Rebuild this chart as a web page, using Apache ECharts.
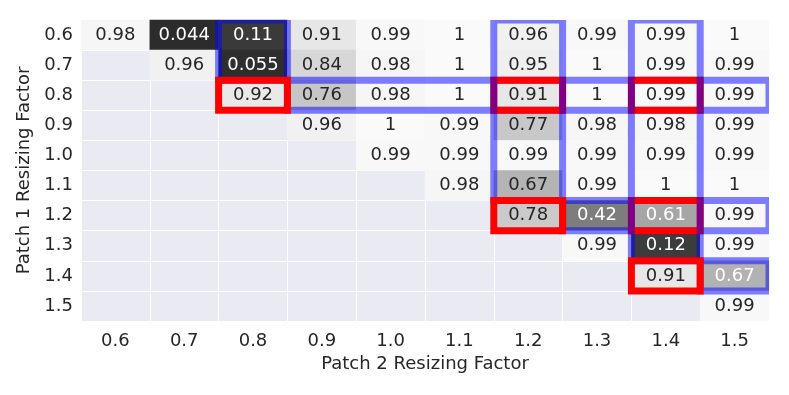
<!DOCTYPE html>
<html>
<head>
<meta charset="utf-8">
<script src="https://cdn.jsdelivr.net/npm/echarts@6/dist/echarts.min.js"></script>
<style>
	html, body { margin: 0; padding: 0; background: #fff; }
	#chart { width: 789px; height: 395px; }
</style>
</head>
<body>
<div id="chart"></div>
<script>
	// 轴刻度
	const patch2Factors = ['0.6', '0.7', '0.8', '0.9', '1.0', '1.1', '1.2', '1.3', '1.4', '1.5'];
	const patch1Factors = ['0.6', '0.7', '0.8', '0.9', '1.0', '1.1', '1.2', '1.3', '1.4', '1.5'];

	// 每行一个 patch 1 因子, null = 无数据
	const row06 = [0.98, 0.044, 0.11, 0.91, 0.99, 1, 0.96, 0.99, 0.99, 1];
	const row07 = [null, 0.96, 0.055, 0.84, 0.98, 1, 0.95, 1, 0.99, 0.99];
	const row08 = [null, null, 0.92, 0.76, 0.98, 1, 0.91, 1, 0.99, 0.99];
	const row09 = [null, null, null, 0.96, 1, 0.99, 0.77, 0.98, 0.98, 0.99];
	const row10 = [null, null, null, null, 0.99, 0.99, 0.99, 0.99, 0.99, 0.99];
	const row11 = [null, null, null, null, null, 0.98, 0.674, 0.99, 1, 1];
	const row12 = [null, null, null, null, null, null, 0.78, 0.42, 0.61, 0.99];
	const row13 = [null, null, null, null, null, null, null, 0.99, 0.12, 0.99];
	const row14 = [null, null, null, null, null, null, null, null, 0.91, 0.665];
	const row15 = [null, null, null, null, null, null, null, null, null, 0.99];
	const rows = [row06, row07, row08, row09, row10, row11, row12, row13, row14, row15];

	// 标注框: [x起, x止, y起, y止, 0=蓝 1=红], 按绘制顺序
	const boxes = [
		[2, 2, 0, 1, 0],
		[3, 9, 2, 2, 0],
		[6, 6, 2, 2, 1],
		[8, 8, 2, 2, 1],
		[2, 2, 2, 2, 1],
		[6, 6, 0, 5, 0],
		[7, 9, 6, 6, 0],
		[8, 8, 6, 6, 1],
		[6, 6, 6, 6, 1],
		[8, 8, 0, 7, 0],
		[9, 9, 8, 8, 0],
		[8, 8, 8, 8, 1]
	];
	const boxColors = ['rgba(0, 0, 255, 0.5)', '#ff0000'];

	let cells = [];
	rows.forEach((r, yi) => {
		r.forEach((v, xi) => {
			if (v !== null) {
				cells.push({
					value: [xi, yi, v],
					label: { color: v < 0.67 ? '#ffffff' : '#262626' }
				});
			}
		});
	});

	const font = 'DejaVu Sans';
	let myChart = echarts.init(document.getElementById('chart'));
	let option = {
		animation: false,
		grid: {
			left: 81,
			right: 20,
			top: 20,
			bottom: 74,
			show: true,
			backgroundColor: '#eaeaf2',
			borderWidth: 0
		},
		xAxis: {
			type: 'category',
			data: patch2Factors,
			name: 'Patch 2 Resizing Factor',
			nameLocation: 'middle',
			nameGap: 34,
			nameTextStyle: { color: '#262626', fontFamily: font, fontSize: 18 },
			axisLine: { show: false },
			axisTick: { show: false },
			axisLabel: { color: '#262626', fontFamily: font, fontSize: 18, margin: 11 },
			splitLine: { show: true, lineStyle: { color: '#ffffff', width: 1 } }
		},
		yAxis: {
			type: 'category',
			data: patch1Factors,
			inverse: true,
			name: 'Patch 1 Resizing Factor',
			nameLocation: 'middle',
			nameGap: 31,
			nameTextStyle: { color: '#262626', fontFamily: font, fontSize: 18 },
			axisLine: { show: false },
			axisTick: { show: false },
			axisLabel: { color: '#262626', fontFamily: font, fontSize: 18, margin: 8 },
			splitLine: { show: true, lineStyle: { color: '#ffffff', width: 1 } }
		},
		visualMap: {
			show: false,
			min: 0,
			max: 1,
			dimension: 2,
			seriesIndex: 0,
			inRange: { color: ['#222222', '#fafafa'] }
		},
		series: [{
			type: 'heatmap',
			data: cells,
			itemStyle: { borderWidth: 0 },
			label: {
				show: true,
				fontFamily: font,
				fontSize: 18,
				formatter: p => String(parseFloat(p.value[2].toPrecision(2)))
			},
			emphasis: { disabled: true }
		}, {
			type: 'custom',
			data: boxes,
			encode: { x: [0, 1], y: [2, 3] },
			clip: true,
			silent: true,
			z: 5,
			renderItem: function(params, api) {
				let a = api.coord([api.value(0), api.value(2)]);
				let b = api.coord([api.value(1), api.value(3)]);
				let s = api.size([1, 1]);
				let cs = params.coordSys;
				return {
					type: 'group',
					clipPath: { type: 'rect', shape: { x: cs.x, y: cs.y, width: cs.width, height: cs.height } },
					children: [{
						type: 'rect',
						shape: {
							x: Math.min(a[0], b[0]) - s[0] / 2,
							y: Math.min(a[1], b[1]) - s[1] / 2,
							width: Math.abs(b[0] - a[0]) + s[0],
							height: Math.abs(b[1] - a[1]) + s[1]
						},
						style: {
							fill: null,
							stroke: boxColors[api.value(4)],
							lineWidth: 7
						}
					}]
				};
			}
		}]
	};
	myChart.setOption(option);
</script>
</body>
</html>
